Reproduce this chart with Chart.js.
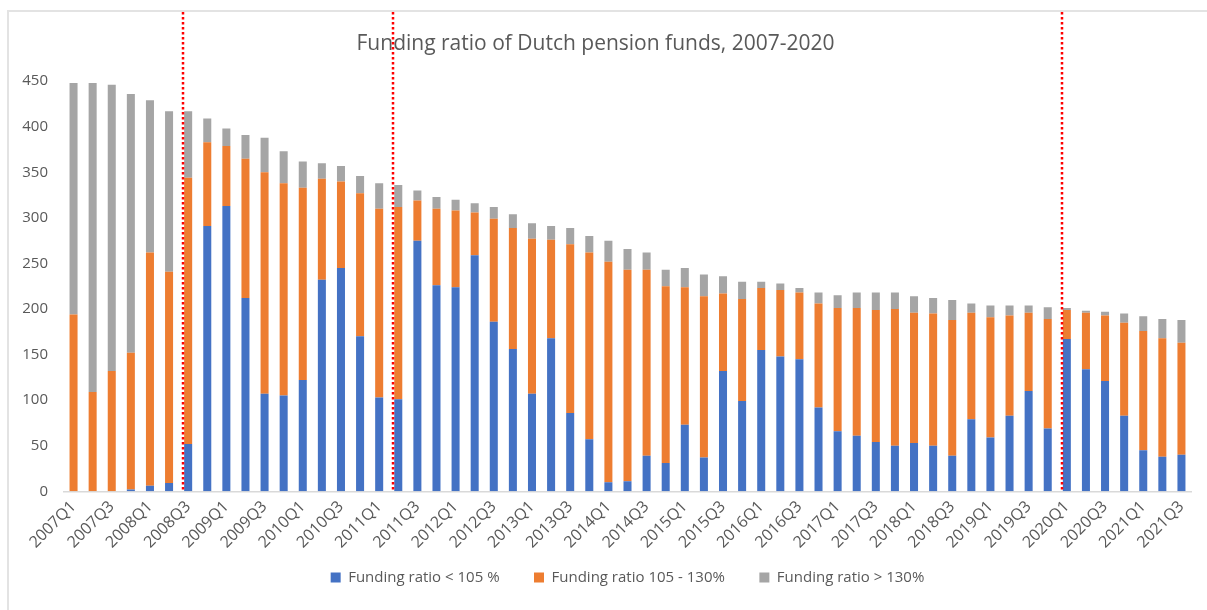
<!DOCTYPE html>
<html>
<head>
<meta charset="utf-8">
<script src="https://cdn.jsdelivr.net/npm/chart.js@4"></script>
<style>
  body { margin: 0; background: #fff; }
  #wrap { position: relative; width: 1207px; height: 610px; }
  #frame { position: absolute; left: 7px; top: 10px; right: -2px; bottom: -2px;
           border-left: 2px solid #e3e3e3; border-top: 2px solid #e3e3e3; pointer-events: none; }
</style>
</head>
<body>
<div id="wrap">
  <canvas id="myChart" width="1207" height="610"></canvas>
  <div id="frame"></div>
</div>
<script>
// quarters 2007Q1 .. 2021Q3
var quarters = [];
for (var y = 2007; y <= 2021; y++) {
    for (var q = 1; q <= 4; q++) {
        if (y === 2021 && q === 4) break;
        quarters.push(y + 'Q' + q);
    }
}

var below105 = [0, 0, 0, 2, 6, 9, 52, 291, 313, 212, 107, 105, 122, 232, 245, 170, 103, 101, 275, 226,
    224, 259, 186, 156, 107, 168, 86, 57, 10, 11, 39, 31, 73, 37, 132, 99, 155, 148, 145, 92,
    66, 61, 54, 50, 53, 50, 39, 79, 59, 83, 110, 69, 167, 134, 121, 83, 45, 38, 40];
var between105and130 = [194, 109, 132, 150, 256, 232, 292, 92, 66, 153, 243, 233, 211, 111, 95, 157, 207, 211, 44, 84,
    84, 47, 113, 133, 170, 108, 185, 205, 242, 232, 204, 194, 151, 177, 85, 112, 68, 73, 73, 114,
    135, 140, 145, 150, 143, 145, 149, 117, 132, 110, 86, 120, 32, 62, 72, 102, 131, 130, 123];
var above130 = [254, 339, 314, 284, 167, 176, 73, 26, 19, 26, 38, 35, 29, 17, 17, 19, 28, 24, 11, 13,
    12, 10, 13, 15, 17, 15, 18, 18, 23, 23, 19, 18, 21, 24, 19, 19, 7, 7, 5, 12,
    14, 17, 19, 18, 18, 17, 22, 10, 13, 11, 8, 13, 2, 2, 4, 10, 16, 21, 25];

// quarters where a red dotted marker line is drawn
var markerQuarters = ['2008Q3', '2011Q2', '2020Q1'];

var textColor = '#595959';

var markerLines = {
    id: 'markerLines',
    afterDatasetsDraw: function (chart) {
        var c = chart.ctx;
        var meta = chart.getDatasetMeta(0);
        c.save();
        c.strokeStyle = '#ff0000';
        c.lineWidth = 2.5;
        c.setLineDash([2.5, 2.5]);
        markerQuarters.forEach(function (lbl) {
            var bar = meta.data[quarters.indexOf(lbl)];
            var x = Math.round(bar.x - bar.width / 2) - 1;
            c.beginPath();
            c.moveTo(x, 12);
            c.lineTo(x, chart.chartArea.bottom);
            c.stroke();
        });
        c.restore();
    }
};

var ctx = document.getElementById('myChart').getContext('2d');
var myChart = new Chart(ctx, {
    type: 'bar',
    data: {
        labels: quarters,
        datasets: [{
            label: 'Funding ratio < 105 %',
            data: below105,
            backgroundColor: '#4472C4'
        }, {
            label: 'Funding ratio 105 - 130%',
            data: between105and130,
            backgroundColor: '#ED7D31'
        }, {
            label: 'Funding ratio > 130%',
            data: above130,
            backgroundColor: '#A5A5A5'
        }]
    },
    options: {
        responsive: false,
        animation: false,
        datasets: {
            bar: { categoryPercentage: 1, barPercentage: 0.42 }
        },
        layout: {
            padding: { left: 0, right: 16, top: 0, bottom: 15 }
        },
        plugins: {
            title: {
                display: true,
                text: 'Funding ratio of Dutch pension funds, 2007-2020',
                color: textColor,
                font: { family: 'Open Sans', size: 21, weight: 'normal' },
                padding: { top: 31, bottom: 25 }
            },
            legend: {
                position: 'bottom',
                fullSize: false,
                labels: {
                    color: textColor,
                    font: { family: 'Open Sans', size: 15 },
                    boxWidth: 10,
                    boxHeight: 10,
                    padding: 12,
                    // wider gap between legend items, as in the original
                    generateLabels: function (chart) {
                        var items = Chart.defaults.plugins.legend.labels.generateLabels(chart);
                        items.forEach(function (it, i) {
                            if (i < items.length - 1) it.text += '\u2003\u2002';
                        });
                        return items;
                    }
                }
            },
            tooltip: { enabled: false }
        },
        scales: {
            x: {
                stacked: true,
                grid: { display: false, drawTicks: false },
                border: { display: true, color: '#d9d9d9', width: 1.5 },
                ticks: {
                    color: textColor,
                    font: { family: 'Open Sans', size: 16 },
                    autoSkip: false,
                    minRotation: 45,
                    maxRotation: 45,
                    padding: 6,
                    callback: function (v, i) { return i % 2 === 0 ? quarters[i] : ''; }
                }
            },
            y: {
                stacked: true,
                min: 0,
                max: 450,
                grid: { display: false, drawTicks: false },
                border: { display: false },
                ticks: {
                    stepSize: 50,
                    color: textColor,
                    font: { family: 'Open Sans', size: 15 },
                    padding: 16
                },
                afterFit: function (s) { s.width = 64; }
            }
        }
    },
    plugins: [markerLines]
});
</script>
</body>
</html>
